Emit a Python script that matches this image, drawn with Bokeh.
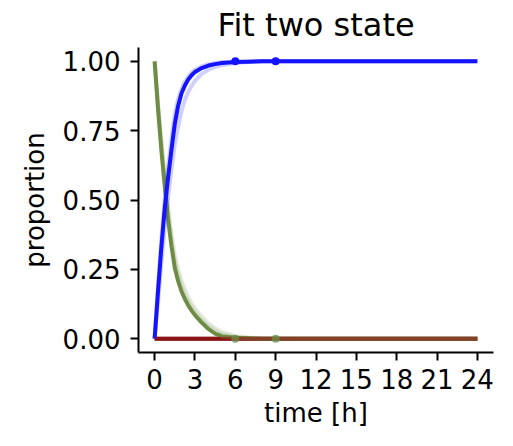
from bokeh.plotting import figure
from bokeh.models import FixedTicker, Range1d
from bokeh.embed import file_html
from bokeh.resources import INLINE

# ---- data ----
time_h = [0, 0.25, 0.5, 0.75, 1, 1.25, 1.5, 1.75, 2, 2.25, 2.5, 2.75, 3, 3.5, 4, 4.5, 5, 6, 7, 8, 10, 12, 16, 20, 24]

blue_fit = [0.0, 0.17, 0.33, 0.47, 0.58, 0.68, 0.775, 0.84, 0.885, 0.913, 0.935, 0.95, 0.962, 0.976, 0.985, 0.99, 0.994, 0.998, 0.999, 1.0, 1.0, 1.0, 1.0, 1.0, 1.0]
blue_slow = [0.0, 0.13, 0.27, 0.40, 0.51, 0.61, 0.70, 0.765, 0.82, 0.86, 0.89, 0.912, 0.93, 0.955, 0.97, 0.98, 0.986, 0.994, 0.998, 1.0, 1.0, 1.0, 1.0, 1.0, 1.0]
blue_fast = [0.0, 0.19, 0.36, 0.50, 0.62, 0.72, 0.81, 0.865, 0.90, 0.927, 0.945, 0.96, 0.97, 0.982, 0.99, 0.994, 0.997, 0.999, 1.0, 1.0, 1.0, 1.0, 1.0, 1.0, 1.0]

green_fit = [1.0, 0.83, 0.68, 0.55, 0.43, 0.335, 0.255, 0.207, 0.17, 0.143, 0.12, 0.101, 0.085, 0.058, 0.035, 0.018, 0.009, 0.003, 0.001, 0.0, 0.0, 0.0, 0.0, 0.0, 0.0]
green_slow = [1.0, 0.84, 0.70, 0.57, 0.455, 0.355, 0.28, 0.23, 0.19, 0.16, 0.135, 0.115, 0.097, 0.068, 0.045, 0.028, 0.017, 0.006, 0.002, 0.0, 0.0, 0.0, 0.0, 0.0, 0.0]
green_slower = [1.0, 0.85, 0.72, 0.60, 0.48, 0.38, 0.30, 0.25, 0.21, 0.178, 0.15, 0.128, 0.11, 0.08, 0.055, 0.037, 0.024, 0.01, 0.004, 0.001, 0.0, 0.0, 0.0, 0.0, 0.0]

red_fit = [0.0] * 25

obs_time = [6, 9]
obs_blue = [1.0, 1.0]
obs_green = [0.0, 0.0]

x_ticks = [0, 3, 6, 9, 12, 15, 18, 21, 24]
y_ticks = [0.0, 0.25, 0.5, 0.75, 1.0]
y_tick_labels = ["0.00", "0.25", "0.50", "0.75", "1.00"]

BLUE = "#1414ff"
GREEN = "#6e8c45"
RED = "#8a1414"
FONT = "DejaVu Sans"

p = figure(width=497, height=430, x_range=Range1d(-1.2, 25.2), y_range=Range1d(-0.05, 1.05),
           output_backend="svg", toolbar_location=None, title="Fit two state",
           min_border_left=138, min_border_right=4, min_border_top=46, min_border_bottom=70)
p.xgrid.visible = False
p.ygrid.visible = False
p.outline_line_color = None
p.background_fill_color = "white"
p.border_fill_color = "white"

p.title.text_font = FONT
p.title.text_font_size = "32px"
p.title.text_font_style = "normal"
p.title.align = "center"
p.title.text_color = "black"
p.title.standoff = 7

p.xaxis.ticker = FixedTicker(ticks=x_ticks)
p.yaxis.ticker = FixedTicker(ticks=y_ticks)
p.yaxis.major_label_overrides = {v: l for v, l in zip(y_ticks, y_tick_labels)}
p.xaxis.axis_label = "time [h]"
p.yaxis.axis_label = "proportion"
for ax in (p.xaxis[0], p.yaxis[0]):
    ax.axis_line_width = 2
    ax.axis_line_color = "black"
    ax.major_tick_line_width = 2
    ax.major_tick_line_color = "black"
    ax.major_tick_out = 8
    ax.major_tick_in = 0
    ax.minor_tick_out = 0
    ax.minor_tick_in = 0
    ax.major_label_text_font = FONT
    ax.major_label_text_font_size = "26px"
    ax.major_label_text_color = "black"
    ax.axis_label_text_font = FONT
    ax.axis_label_text_font_size = "26px"
    ax.axis_label_text_font_style = "normal"
    ax.axis_label_text_color = "black"
p.xaxis.major_label_standoff = 8
p.xaxis.axis_label_standoff = 6
p.yaxis.major_label_standoff = 10
p.yaxis.axis_label_standoff = 10

# red base
p.line(time_h, red_fit, line_color=RED, line_width=4)
# green samples + fit
for s in (green_slower, green_slow):
    p.line(time_h, s, line_color=GREEN, line_width=4, line_alpha=0.18, line_join="round")
p.line(time_h, green_fit, line_color=GREEN, line_width=4, line_join="round")
# blue samples + fit
for s in (blue_slow, blue_fast):
    p.line(time_h, s, line_color=BLUE, line_width=4, line_alpha=0.2, line_join="round")
p.line(time_h, blue_fit, line_color=BLUE, line_width=4, line_join="round")
# red on top (semi-transparent)
p.line(time_h, red_fit, line_color=RED, line_width=4, line_alpha=0.62)
# observations
p.scatter(obs_time, obs_blue, size=8, fill_color=BLUE, line_color=None)
p.scatter(obs_time, obs_green, size=8, fill_color=GREEN, line_color=None, fill_alpha=0.75)

open("out.html", "w").write(file_html(p, INLINE))
